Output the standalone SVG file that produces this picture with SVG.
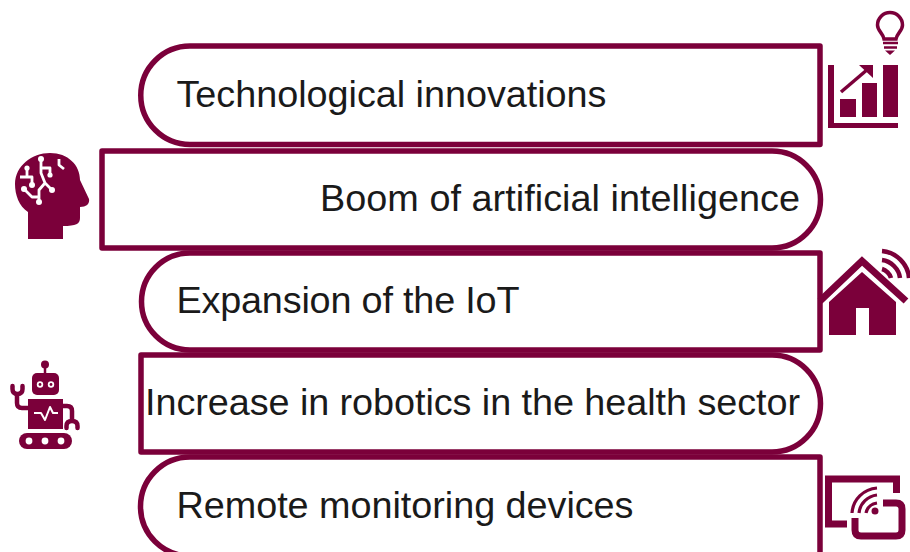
<svg xmlns="http://www.w3.org/2000/svg" width="910" height="552" viewBox="0 0 910 552">
<style>
.box{fill:#fff;stroke:#7b003a;stroke-width:5.500;stroke-linejoin:round}
.lbl{font-family:"Liberation Sans",Arial,sans-serif;font-size:37.800px;fill:#1a1a1a}
.ic{fill:#7b003a}
.ln{fill:none;stroke:#7b003a}
.wl{fill:none;stroke:#fff;stroke-width:2.800;stroke-linejoin:round}
.dot{fill:#fff}
</style>
<rect width="910" height="552" fill="#fff"/>
<g id="node-technological">
<path class="box" d="M820 46V144.500H190A49.250 49.250 0 0 1 190 46Z"/>
<text class="lbl" x="176.500" y="107" textLength="430">Technological innovations</text>
</g>
<g id="node-ai">
<path class="box" d="M102 151H772A48.500 48.500 0 0 1 772 248H102Z"/>
<text class="lbl" x="320" y="211" textLength="480">Boom of artificial intelligence</text>
</g>
<g id="node-iot">
<path class="box" d="M820 253V350H190A48.500 48.500 0 0 1 190 253Z"/>
<text class="lbl" x="176.500" y="313" textLength="343">Expansion of the IoT</text>
</g>
<g id="node-robotics">
<path class="box" d="M141 355H772A48.500 48.500 0 0 1 772 452H141Z"/>
<text class="lbl" x="145" y="415" textLength="655">Increase in robotics in the health sector</text>
</g>
<g id="node-remote">
<path class="box" d="M820 457V556H190A49.500 49.500 0 0 1 190 457Z"/>
<text class="lbl" x="176.500" y="518" textLength="457">Remote monitoring devices</text>
</g>
<g id="icon-innovation">
<path class="ln" stroke-width="3.500" d="M884 39C883 33 877.500 31 877.500 25A12.500 12.500 0 0 1 902.500 25C902.500 31 897 33 896 39Z"/>
<path class="ln" stroke-width="2.400" d="M883 43H898M884 47.500H897"/>
<path class="ic" d="M885 50.500H895L890 55Z"/>
<path class="ic" d="M828 65H834V123H898V128H828Z"/>
<rect class="ic" x="840" y="99" width="16" height="18"/>
<rect class="ic" x="862" y="83" width="15" height="34"/>
<rect class="ic" x="883" y="65" width="15" height="52"/>
<path class="ln" stroke-width="3.500" d="M841 92L868 69"/>
<path class="ic" d="M859 65H873V78Z"/>
</g>
<g id="icon-head">
<path class="ic" d="M28 239V212C19 206 15 195 15 184C15 166 32 153 50 153C68 153 80 165 80 180L89 199C90 204 86 207 80 207V218C80 224 76 226 63 226V239Z"/>
<path class="wl" d="M41 159V173L45 183L39 190V202M45 183L52 190M41 168H50V175M20 177H32V185M27 168V177M24 189L32 197H39M59 159V165L64 169"/>
<circle class="dot" cx="41" cy="159" r="3"/><circle class="dot" cx="50" cy="175" r="2.600"/><circle class="dot" cx="27" cy="168" r="2.600"/><circle class="dot" cx="32" cy="185" r="3"/><circle class="dot" cx="24" cy="189" r="3"/><circle class="dot" cx="39" cy="202" r="3"/><circle class="dot" cx="52" cy="190" r="3"/>
</g>
<g id="icon-iot">
<path class="ln" stroke-width="7" stroke-linejoin="miter" d="M820 301L862 261L906 301"/>
<path class="ic" d="M829 302L862 272L896 302V335H869V308H856V335H829Z"/>
<path class="ln" stroke-width="4.500" d="M882 251C896 252 908 264 909 278M882 260C891 261 899 269 900 278M882 269C886 270 890 274 891 278"/>
</g>
<g id="icon-robot">
<circle class="ic" cx="45" cy="364.500" r="4"/>
<path class="ln" stroke-width="2.500" d="M45 368V374"/>
<rect class="ic" x="32" y="373" width="27" height="22" rx="5"/>
<circle cx="40" cy="384.500" r="3.200" class="dot"/><circle cx="51" cy="384.500" r="3.200" class="dot"/>
<circle cx="40" cy="384.500" r="1.400" class="ic"/><circle cx="51" cy="384.500" r="1.400" class="ic"/>
<rect class="ic" x="28" y="399" width="35" height="30"/>
<path class="ln" stroke-width="4.500" d="M17 392V403Q17 408 22 408H28M63 406H67Q72 406 72 411V422"/>
<path class="ln" stroke-width="4.500" stroke-linecap="round" d="M12.500 386V389Q12.500 394 17.500 394Q22.500 394 22.500 389V386M66.500 428V426Q66.500 421 72 421Q77.500 421 77.500 426V428"/>
<path class="wl" style="stroke-width:2" d="M34 413H41L45 420L50 407L53 413H58"/>
<rect class="ic" x="19" y="433" width="53" height="16" rx="8"/>
<circle cx="29" cy="441" r="3.400" class="dot"/><circle cx="45" cy="441" r="3.400" class="dot"/><circle cx="61" cy="441" r="3.400" class="dot"/>
</g>
<g id="icon-device">
<path class="ln" stroke-width="7" stroke-linejoin="miter" d="M896.500 493V479H828.500V524H847"/>
<path class="ln" stroke-width="7" d="M883 503H896Q902 503 902 509V530Q902 536 896 536H861Q855 536 855 530V518"/>
<circle class="ic" cx="875" cy="511" r="3.500"/>
<path class="ln" stroke-width="3.200" d="M852 513C853 499 864 489 877 488M859 513C860 503 868 496 877 495M866 513C867 508 871 504 877 503"/>
</g>
</svg>
